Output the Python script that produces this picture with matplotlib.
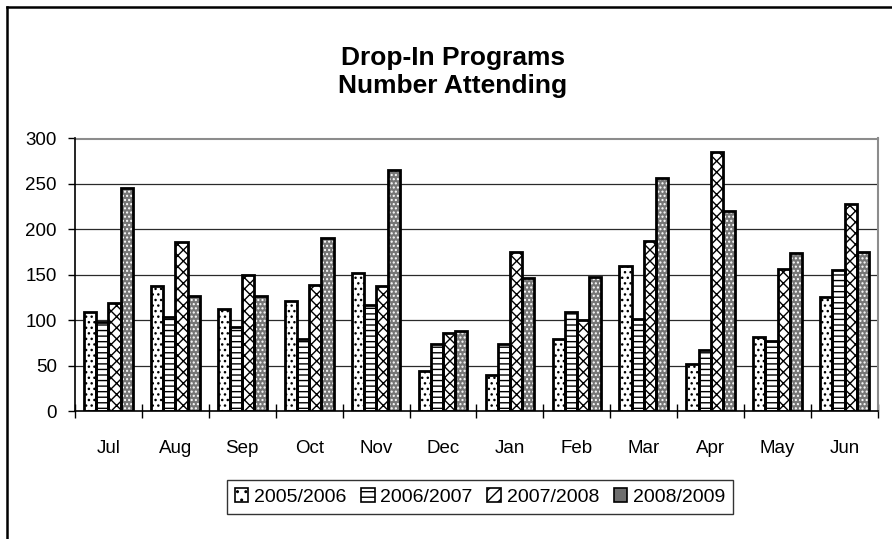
import matplotlib
matplotlib.use("Agg")
import matplotlib.pyplot as plt
from matplotlib.patches import Patch
from matplotlib.lines import Line2D
import numpy as np

plt.rcParams['font.family'] = ['Liberation Sans', 'DejaVu Sans']
plt.rcParams['hatch.linewidth'] = 1.0

months = ["Jul", "Aug", "Sep", "Oct", "Nov", "Dec", "Jan", "Feb", "Mar", "Apr", "May", "Jun"]
seasons = ["2005/2006", "2006/2007", "2007/2008", "2008/2009"]
s2005 = [109, 138, 112, 121, 152, 44, 40, 79, 160, 52, 82, 125]
s2006 = [98, 103, 93, 79, 117, 74, 74, 109, 101, 67, 77, 155]
s2007 = [119, 186, 150, 139, 138, 86, 175, 100, 187, 285, 156, 228]
s2008 = [245, 127, 127, 191, 265, 88, 146, 148, 257, 220, 174, 175]
series = [s2005, s2006, s2007, s2008]
yticks = [0, 50, 100, 150, 200, 250, 300]

# fill colour, hatch pattern, hatch colour per season
styles = [
    ("white", "...", "black"),
    ("white", "---", "black"),
    ("white", "xxx", "black"),
    ("#767676", "....", "white"),
]

fig = plt.figure(figsize=(8.92, 5.39), dpi=100)
ax = fig.add_axes([75 / 892, 1 - 411 / 539, 803 / 892, 272.5 / 539])

x = np.arange(len(months))
w = 0.182
for i, (vals, (fc, hatch, hc)) in enumerate(zip(series, styles)):
    pos = x + (i - 1.5) * w
    ax.bar(pos, vals, width=w, color=fc, hatch=hatch, edgecolor=hc,
           linewidth=0, zorder=3)
    ax.bar(pos, vals, width=w, fill=False, edgecolor="black",
           linewidth=2.0, zorder=4)

ax.set_xlim(-0.5, len(months) - 0.5)
ax.set_ylim(0, 300)
ax.set_yticks(yticks)
ax.set_yticklabels([str(v) for v in yticks], fontsize=13.5)
ax.set_xticks(x)
ax.set_xticklabels(months, fontsize=13.5)
ax.tick_params(axis='x', length=0, pad=21)
ax.set_xticks(np.arange(-0.5, len(months)), minor=True)
ax.tick_params(axis='x', which='minor', direction='inout', length=10, width=1, color='black')
ax.tick_params(axis='y', direction='out', length=5, width=1, color='black', pad=8)

for v in yticks[1:-1]:
    ax.axhline(v, color="#2a2a2a", linewidth=0.9, zorder=1)

for s in ("top", "right"):
    ax.spines[s].set_color("#8c8c8c")
    ax.spines[s].set_linewidth(1.5)
for s in ("left", "bottom"):
    ax.spines[s].set_color("black")
    ax.spines[s].set_linewidth(1.2)
    ax.spines[s].set_zorder(5)

fig.text(453 / 892, 1 - 72 / 539, "Drop-In Programs\nNumber Attending",
         ha="center", va="center", fontsize=19, fontweight="bold",
         linespacing=1.2)

handles = [
    Patch(facecolor="white", edgecolor="black", hatch="..", linewidth=1.2),
    Patch(facecolor="white", edgecolor="black", hatch="---", linewidth=1.2),
    Patch(facecolor="white", edgecolor="black", hatch="///", linewidth=1.2),
    Patch(facecolor="#6e6e6e", edgecolor="black", linewidth=1.2),
]
leg = fig.legend(handles, seasons, loc="center", bbox_to_anchor=(480 / 892, 1 - 497 / 539),
                 ncol=4, fontsize=14, frameon=True, fancybox=False,
                 handlelength=0.7, handleheight=0.7, handletextpad=0.3,
                 columnspacing=0.75, borderpad=0.4, borderaxespad=0)
leg.get_frame().set_edgecolor("black")
leg.get_frame().set_linewidth(1.0)

# outer chart border (left and top edges)
fig.add_artist(Line2D([6.5 / 892, 6.5 / 892], [0, 1 - 6.5 / 539], color="black",
                      linewidth=1.8, transform=fig.transFigure))
fig.add_artist(Line2D([6.5 / 892, 1], [1 - 6.5 / 539, 1 - 6.5 / 539], color="black",
                      linewidth=1.8, transform=fig.transFigure))

fig.savefig("out.png", dpi=100)
